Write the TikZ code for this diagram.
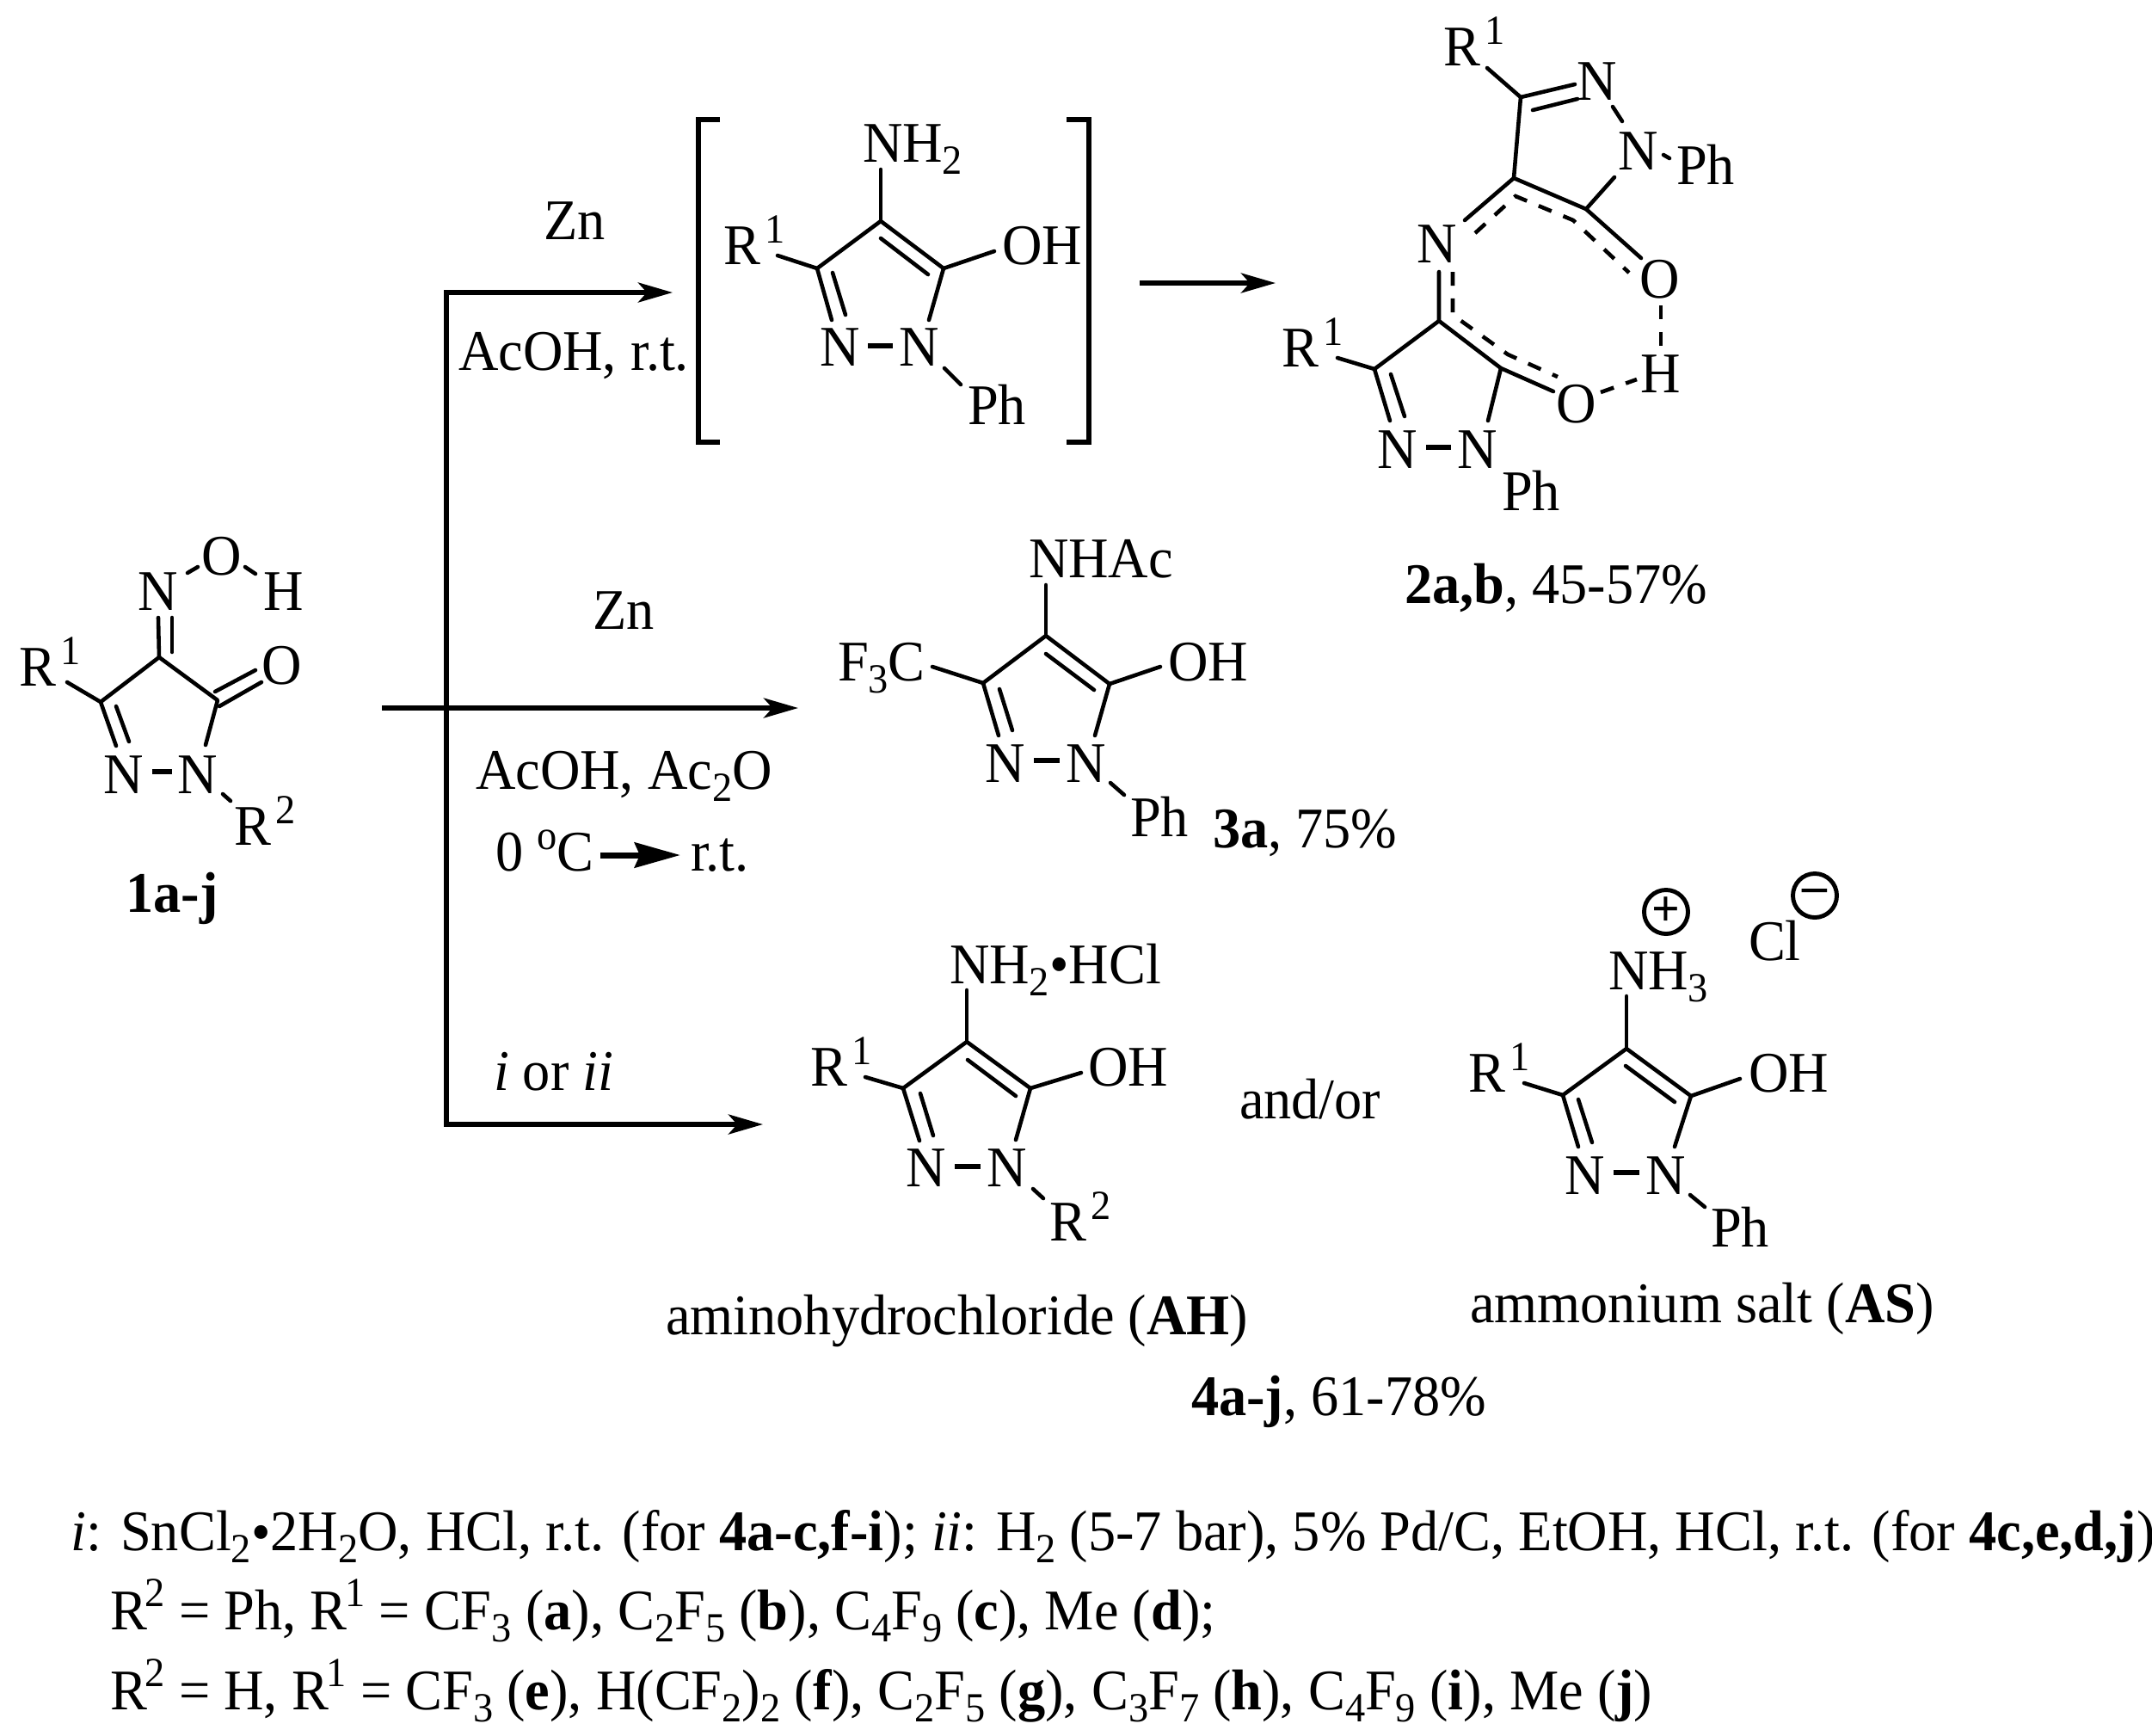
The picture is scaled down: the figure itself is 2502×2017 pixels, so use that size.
\documentclass[tikz,border=0pt]{standalone}
\usepackage{fontspec}
\setmainfont[FakeStretch=0.963]{Liberation Serif}
\usetikzlibrary{arrows.meta}
\newcommand{\supn}[1]{\kern 1.6pt\raisebox{7.1pt}{\fontsize{13.7}{15}\selectfont #1}}
\newcommand{\supb}[1]{\kern -0.6pt\raisebox{7.6pt}{\fontsize{13.7}{15}\selectfont #1}}
\newcommand{\lsub}[1]{\raisebox{-4.2pt}{\fontsize{13.7}{15}\selectfont #1}}
\tikzset{
  x=0.01cm,y=-0.01cm,
  txt/.style={inner sep=0pt,outer sep=0pt,anchor=base west,font=\fontsize{19}{22}\selectfont},
  atom/.style={inner sep=0pt,outer sep=0pt,anchor=base,font=\fontsize{19}{22}\selectfont},
  bond/.style={line width=1.3pt,line cap=round,line join=round},
  hb/.style={line width=1.3pt,dash pattern=on 4.6pt off 4.2pt},
  nn/.style={line width=1.7pt},
  rx/.style={line width=1.55pt,-{Stealth[length=4mm,width=2.3mm,inset=1mm]}},
  rline/.style={line width=1.55pt},
  brk/.style={line width=1.6pt,line join=miter},
  charge/.style={circle,draw,line width=1.4pt,minimum size=.51cm,inner sep=0pt,font=\fontsize{17}{17}\bfseries\selectfont}
}
\begin{document}
\begin{tikzpicture}
\useasboundingbox (0,0) rectangle (2502,2017);
% ---------- 1a-j
\coordinate (aC4) at (185,764); \coordinate (aC3) at (117,816); \coordinate (aC5) at (253,814);
\coordinate (aNa) at (184,718); \coordinate (aNb) at (200,718); \coordinate (aNc) at (200,758);
\coordinate (aR) at (78,793);
\coordinate (aD1) at (135,867); \coordinate (aD2) at (135,821); \coordinate (aD3) at (150,862);
\coordinate (aN2e) at (239,866); \coordinate (aO1) at (250,804); \coordinate (aO2) at (297,779);
\coordinate (aO3) at (255,821); \coordinate (aO4) at (304,793);
\node[atom] (aNox) at (184,709) {N}; \node[atom] (aOh) at (258,668) {O}; \node[atom] (aH) at (330,709) {H};
\node[txt] (aR1) at (22,797) {R\supn{1}};
\node[atom] (aO) at (328,795) {O};
\node[atom] (aNl) at (144,922) {N}; \node[atom] (aNr) at (230,922) {N};
\node[txt] (aR2) at (272,982) {R\supn{2}};
\node[atom,font=\fontsize{19}{22}\bfseries\selectfont] (aLab) at (200,1060) {1a-j};
\coordinate (aNOa) at (218,666); \coordinate (aNOb) at (230,659); \coordinate (aOHa) at (285,659); \coordinate (aOHb) at (297,667);
\coordinate (aNNa) at (177,897); \coordinate (aNNb) at (200,897); \coordinate (aRa) at (259,923); \coordinate (aRb) at (268,931);
\draw[bond] (aC3)--(aC4)--(aC5)--(aN2e);
\draw[bond] (aNa)--(aC4); \draw[bond] (aNb)--(aNc); \draw[bond] (aR)--(aC3);
\draw[bond] (aC3)--(aD1); \draw[bond] (aD2)--(aD3);
\draw[bond] (aO1)--(aO2); \draw[bond] (aO3)--(aO4);
\draw[bond] (aNOa)--(aNOb); \draw[bond] (aOHa)--(aOHb); \draw[nn] (aNNa)--(aNNb); \draw[bond] (aRa)--(aRb);
% ---------- arrows
\coordinate (mS) at (444,823); \coordinate (mJ) at (519,823); \coordinate (mT) at (928,823);
\coordinate (vT) at (519,340); \coordinate (vB) at (519,1307);
\coordinate (tT) at (782,340); \coordinate (bT) at (887,1307);
\draw[rx] (mS)--(mT);
\draw[rx] (vB)--(bT);
\draw[rline,line cap=rect] (vB)--(vT);
\draw[rx] (vT)--(tT);
\coordinate (cS) at (1325,329); \coordinate (cT) at (1483,329);
\draw[rx] (cS)--(cT);
\node[txt] (zn1) at (632,278) {Zn};
\node[txt] (ac1) at (533,430) {AcOH, r.t.};
\node[txt] (zn2) at (689,731) {Zn};
\node[txt] (ac2) at (553,917) {AcOH, Ac\lsub{2}O};
\node[txt] (temp) at (576,1012) {0 \raisebox{7pt}{\fontsize{13.7}{15}\selectfont o}C};
\coordinate (tA) at (698,994); \coordinate (tB) at (791,994);
\draw[line width=2pt,-{Stealth[length=5.3mm,width=2.9mm,inset=.6mm]}] (tA)--(tB);
\node[txt] (rt) at (803,1012) {r.t.};
\node[txt] (ior) at (574,1267) {\textit{i} or \textit{ii}};
% ---------- brackets
\coordinate (bl1) at (837,139); \coordinate (bl2) at (812,139); \coordinate (bl3) at (812,514); \coordinate (bl4) at (837,514);
\coordinate (br1) at (1240,139); \coordinate (br2) at (1266,139); \coordinate (br3) at (1266,514); \coordinate (br4) at (1240,514);
\draw[brk] (bl1)--(bl2)--(bl3)--(bl4);
\draw[brk] (br1)--(br2)--(br3)--(br4);
% ---------- intermediate
\coordinate (iC4) at (1024,257); \coordinate (iC3) at (950,312); \coordinate (iC5) at (1097,312);
\coordinate (iNH) at (1024,197); \coordinate (iR) at (904,297); \coordinate (iOH) at (1156,292);
\coordinate (iD1) at (967,372); \coordinate (iD2) at (968,317); \coordinate (iD3) at (983,366);
\coordinate (iE1) at (1024,277); \coordinate (iE2) at (1079,319); \coordinate (iNb) at (1080,372);
\coordinate (iNNa) at (1009,402); \coordinate (iNNb) at (1038,402); \coordinate (iPa) at (1098,428); \coordinate (iPb) at (1117,447);
\node[txt] (iNH2) at (1003,188) {NH\lsub{2}};
\node[txt] (iR1) at (841,307) {R\supn{1}};
\node[txt] (iOHt) at (1165,307) {OH};
\node[atom] (iNl) at (977,425) {N}; \node[atom] (iNr) at (1069,425) {N};
\node[txt] (iPh) at (1125,493) {Ph};
\draw[bond] (iNH)--(iC4); \draw[bond] (iC3)--(iC4)--(iC5)--(iNb);
\draw[bond] (iR)--(iC3); \draw[bond] (iC5)--(iOH);
\draw[bond] (iC3)--(iD1); \draw[bond] (iD2)--(iD3); \draw[bond] (iE1)--(iE2);
\draw[nn] (iNNa)--(iNNb); \draw[bond] (iPa)--(iPb);
% ---------- 2a,b
\coordinate (uC3) at (1768,113); \coordinate (uC4) at (1760,207); \coordinate (uC5) at (1844,243);
\coordinate (uR) at (1729,79); \coordinate (uD1) at (1831,98); \coordinate (uD2) at (1782,128); \coordinate (uD3) at (1834,115);
\coordinate (uNNa) at (1875,124); \coordinate (uNNb) at (1886,141); \coordinate (uNb) at (1877,206);
\coordinate (uPa) at (1934,180); \coordinate (uPb) at (1941,184);
\coordinate (uN) at (1703,256); \coordinate (uOs) at (1908,300);
\coordinate (uDa) at (1715,271); \coordinate (uDb) at (1762,228); \coordinate (uDc) at (1829,256); \coordinate (uDd) at (1894,317);
\coordinate (hA) at (1931,355); \coordinate (hB) at (1931,405);
\coordinate (lCa) at (1673,316); \coordinate (lC4) at (1673,373); \coordinate (lC5) at (1745,428); \coordinate (lC3) at (1598,429);
\coordinate (lOs) at (1806,455); \coordinate (lDa) at (1689,316); \coordinate (lDb) at (1689,366); \coordinate (lDc) at (1753,412); \coordinate (lDd) at (1811,438);
\coordinate (hC) at (1861,456); \coordinate (hD) at (1903,441);
\coordinate (lR) at (1555,416); \coordinate (lD1) at (1616,489); \coordinate (lD2) at (1617,435); \coordinate (lD3) at (1633,484);
\coordinate (lNNa) at (1658,520); \coordinate (lNNb) at (1687,520); \coordinate (lNb) at (1730,489);
\node[txt] (uR1) at (1678,76) {R\supn{1}};
\node[atom] (uNa) at (1857,116) {N}; \node[atom] (uNc) at (1905,197) {N};
\node[txt] (uPh) at (1949,214) {Ph};
\node[atom] (mN) at (1671,305) {N};
\node[atom] (uO) at (1930,346) {O}; \node[atom] (hH) at (1931,456) {H}; \node[atom] (lO) at (1833,491) {O};
\node[txt] (lR1) at (1490,426) {R\supn{1}};
\node[atom] (lNa) at (1625,544) {N}; \node[atom] (lNc) at (1718,544) {N};
\node[txt] (lPh) at (1746,593) {Ph};
\node[txt] (lab2) at (1633,701) {\textbf{2a,b}, 45-57\%};
\draw[bond] (uR)--(uC3)--(uD1); \draw[bond] (uD2)--(uD3); \draw[bond] (uC3)--(uC4)--(uC5)--(uNb);
\draw[bond] (uNNa)--(uNNb); \draw[bond] (uPa)--(uPb);
\draw[bond] (uC4)--(uN); \draw[bond] (uC5)--(uOs);
\draw[hb] (uDa)--(uDb)--(uDc)--(uDd);
\draw[hb] (hA)--(hB);
\draw[bond] (lCa)--(lC4)--(lC5)--(lOs); \draw[bond] (lC4)--(lC3)--(lD1); \draw[bond] (lD2)--(lD3);
\draw[hb] (lDa)--(lDb)--(lDc)--(lDd);
\draw[hb] (hC)--(hD);
\draw[bond] (lR)--(lC3); \draw[nn] (lNNa)--(lNNb); \draw[bond] (lC5)--(lNb);
% ---------- 3a
\coordinate (tC4) at (1216,739); \coordinate (tC3) at (1143,794); \coordinate (tC5) at (1290,795);
\coordinate (tNH) at (1216,680); \coordinate (tE1) at (1216,760); \coordinate (tE2) at (1272,802);
\coordinate (tD1) at (1161,855); \coordinate (tD2) at (1162,801); \coordinate (tD3) at (1177,849); \coordinate (tNb) at (1273,855);
\coordinate (tNNa) at (1202,884); \coordinate (tNNb) at (1232,884); \coordinate (tPa) at (1291,910); \coordinate (tPb) at (1307,924);
\coordinate (tF) at (1084,775); \coordinate (tOH) at (1349,775);
\node[txt] (tNHAc) at (1196,671) {NHAc};
\node[txt] (tF3C) at (974,791) {F\lsub{3}C};
\node[txt] (tOHt) at (1358,791) {OH};
\node[atom] (tNl) at (1169,909) {N}; \node[atom] (tNr) at (1263,909) {N};
\node[txt] (tPh) at (1314,972) {Ph};
\node[txt] (lab3) at (1410,985) {\textbf{3a}, 75\%};
\draw[bond] (tNH)--(tC4); \draw[bond] (tC3)--(tC4)--(tC5)--(tNb);
\draw[bond] (tF)--(tC3); \draw[bond] (tC5)--(tOH); \draw[bond] (tE1)--(tE2);
\draw[bond] (tC3)--(tD1); \draw[bond] (tD2)--(tD3); \draw[nn] (tNNa)--(tNNb); \draw[bond] (tPa)--(tPb);
% ---------- AH
\coordinate (hC4) at (1124,1211); \coordinate (hC3) at (1050,1265); \coordinate (hC5) at (1198,1265);
\coordinate (hNH) at (1124,1151); \coordinate (hE1) at (1125,1232); \coordinate (hE2) at (1181,1274);
\coordinate (hD1) at (1069,1326); \coordinate (hD2) at (1070,1271); \coordinate (hD3) at (1085,1320); \coordinate (hNb) at (1181,1325);
\coordinate (hNNa) at (1110,1356); \coordinate (hNNb) at (1140,1356); \coordinate (hRa) at (1201,1382); \coordinate (hRb) at (1213,1393);
\coordinate (hR) at (1006,1252); \coordinate (hOH) at (1257,1247);
\node[txt] (hNH2) at (1104,1143) {NH\lsub{2}•HCl};
\node[txt] (hR1) at (942,1262) {R\supn{1}};
\node[txt] (hOHt) at (1265,1262) {OH};
\node[atom] (hNl) at (1077,1379) {N}; \node[atom] (hNr) at (1171,1379) {N};
\node[txt] (hR2) at (1220,1442) {R\supn{2}};
\node[txt] (andor) at (1441,1300) {and/or};
\draw[bond] (hNH)--(hC4); \draw[bond] (hC3)--(hC4)--(hC5)--(hNb);
\draw[bond] (hR)--(hC3); \draw[bond] (hC5)--(hOH); \draw[bond] (hE1)--(hE2);
\draw[bond] (hC3)--(hD1); \draw[bond] (hD2)--(hD3); \draw[nn] (hNNa)--(hNNb); \draw[bond] (hRa)--(hRb);
% ---------- AS
\coordinate (sC4) at (1891,1219); \coordinate (sC3) at (1817,1273); \coordinate (sC5) at (1966,1274);
\coordinate (sNH) at (1891,1158); \coordinate (sE1) at (1890,1239); \coordinate (sE2) at (1947,1281);
\coordinate (sD1) at (1835,1333); \coordinate (sD2) at (1835,1278); \coordinate (sD3) at (1851,1328); \coordinate (sNb) at (1947,1333);
\coordinate (sNNa) at (1876,1363); \coordinate (sNNb) at (1906,1363); \coordinate (sPa) at (1965,1389); \coordinate (sPb) at (1982,1403);
\coordinate (sR) at (1772,1259); \coordinate (sOH) at (2023,1254);
\node[charge] (plus) at (1937,1060) {+};
\node[charge] (minus) at (2110,1041) {–};
\node[txt] (cl) at (2033,1116) {Cl};
\node[txt] (sNH3) at (1870,1150) {NH\lsub{3}};
\node[txt] (sR1) at (1707,1269) {R\supn{1}};
\node[txt] (sOHt) at (2033,1269) {OH};
\node[atom] (sNl) at (1843,1388) {N}; \node[atom] (sNr) at (1937,1388) {N};
\node[txt] (sPh) at (1989,1449) {Ph};
\draw[bond] (sNH)--(sC4); \draw[bond] (sC3)--(sC4)--(sC5)--(sNb);
\draw[bond] (sR)--(sC3); \draw[bond] (sC5)--(sOH); \draw[bond] (sE1)--(sE2);
\draw[bond] (sC3)--(sD1); \draw[bond] (sD2)--(sD3); \draw[nn] (sNNa)--(sNNb); \draw[bond] (sPa)--(sPb);
% ---------- captions
\node[txt] (capAH) at (774,1551) {aminohydrochloride (\textbf{AH})};
\node[txt] (capAS) at (1709,1537) {ammonium salt (\textbf{AS})};
\node[txt] (lab4) at (1385,1645) {\textbf{4a-j}, 61-78\%};
\node[txt] (l1) at (83,1802) {\textit{i}: SnCl\lsub{2}\raisebox{-.5pt}{•}2H\lsub{2}O, HCl, r.t. (for \textbf{4a-c,f-i}); \textit{ii}: H\lsub{2} (5-7 bar), 5\% Pd/C, EtOH, HCl, r.t. (for \textbf{4c,e,d,j})};
\node[txt] (l2) at (128,1894) {R\supb{2} = Ph, R\supb{1} = CF\lsub{3} (\textbf{a}), C\lsub{2}F\lsub{5} (\textbf{b}), C\lsub{4}F\lsub{9} (\textbf{c}), Me (\textbf{d});};
\node[txt] (l3) at (128,1987) {R\supb{2} = H, R\supb{1} = CF\lsub{3} (\textbf{e}), H(CF\lsub{2})\lsub{2} (\textbf{f}), C\lsub{2}F\lsub{5} (\textbf{g}), C\lsub{3}F\lsub{7} (\textbf{h}), C\lsub{4}F\lsub{9} (\textbf{i}), Me (\textbf{j})};
\end{tikzpicture}
\end{document}
